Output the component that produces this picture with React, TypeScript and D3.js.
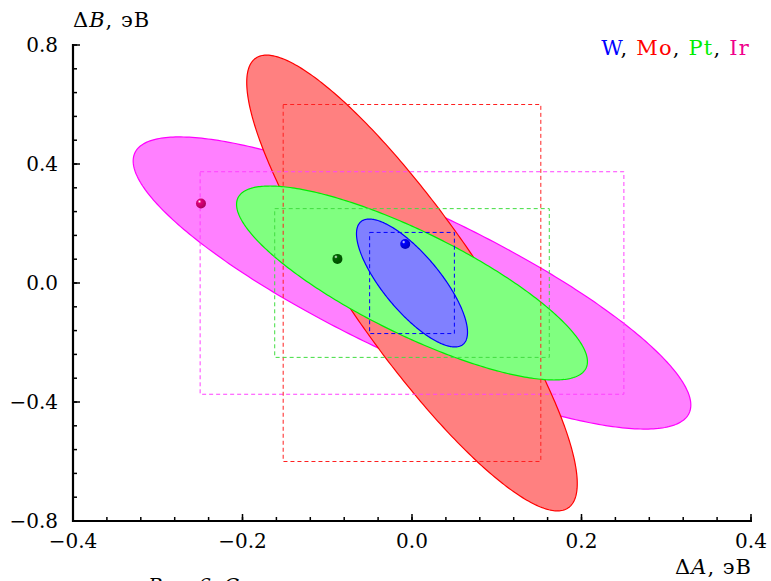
import { useRef, useEffect } from "react";
import * as d3 from "d3";

// order of drawing: widest at the back
const metals = ["Ir", "Mo", "Pt", "W"];
const centerA = [0, 0, 0, 0];
const centerB = [0, 0, 0, 0];
const halfA = [0.329, 0.195, 0.207, 0.0655];
const halfB = [0.491, 0.766, 0.326, 0.215];
const rho = [-0.835, -0.88, -0.81, -0.77];
const boxA = [0.25, 0.152, 0.162, 0.05];
const boxB = [0.374, 0.6, 0.25, 0.17];
const pointA = [-0.249, null, -0.088, -0.008];
const pointB = [0.267, null, 0.081, 0.131];

const fills = ["#ff80ff", "#ff8080", "#80ff80", "#8080ff"];
const strokes = ["#ff00ff", "#ff0000", "#00ee00", "#0000ff"];
const dashes = ["#ff40ff", "#ff2020", "#40dd40", "#0000ff"];
const dots = ["#e0007a", null, "#006400", "#0000ff"];

const legendNames = ["W", "Mo", "Pt", "Ir"];
const legendColors = ["#0000ff", "#ff0000", "#00ee00", "#f0008c"];

const xTicks = [-0.4, -0.2, 0.0, 0.2, 0.4];
const yTicks = [-0.8, -0.4, 0.0, 0.4, 0.8];

const App = () => {
  const ref = useRef(null);

  useEffect(() => {
    const width = 771;
    const height = 581;
    const font = "'DejaVu Serif', 'Liberation Serif', serif";
    const fs = 20;

    const svg = d3
      .select(ref.current)
      .html("")
      .append("svg")
      .attr("width", width)
      .attr("height", height)
      .style("display", "block")
      .style("position", "absolute")
      .style("left", 0)
      .style("top", 0);

    const x = d3.scaleLinear().domain([-0.4, 0.4]).range([73, 751]);
    const y = d3.scaleLinear().domain([-0.8, 0.8]).range([521, 45]);

    const defs = svg.append("defs");
    dots.forEach((c, i) => {
      if (!c) return;
      const g = defs
        .append("radialGradient")
        .attr("id", "dot" + i)
        .attr("cx", "0.35")
        .attr("cy", "0.3")
        .attr("r", "0.7");
      g.append("stop").attr("offset", "0").attr("stop-color", "#ffffff");
      g.append("stop").attr("offset", "0.25").attr("stop-color", c);
      g.append("stop").attr("offset", "1").attr("stop-color", d3.color(c).darker(0.8).toString());
    });

    const ts = d3.range(0, 2 * Math.PI, Math.PI / 180);
    const line = d3
      .line()
      .x((d) => x(d[0]))
      .y((d) => y(d[1]))
      .curve(d3.curveLinearClosed);

    metals.forEach((m, i) => {
      const pts = ts.map((t) => [
        centerA[i] + halfA[i] * Math.cos(t),
        centerB[i] + halfB[i] * (rho[i] * Math.cos(t) + Math.sqrt(1 - rho[i] * rho[i]) * Math.sin(t)),
      ]);
      svg
        .append("path")
        .attr("d", line(pts))
        .attr("fill", fills[i])
        .attr("stroke", strokes[i])
        .attr("stroke-width", 1.2);
    });

    metals.forEach((m, i) => {
      svg
        .append("rect")
        .attr("x", x(centerA[i] - boxA[i]))
        .attr("y", y(centerB[i] + boxB[i]))
        .attr("width", x(centerA[i] + boxA[i]) - x(centerA[i] - boxA[i]))
        .attr("height", y(centerB[i] - boxB[i]) - y(centerB[i] + boxB[i]))
        .attr("fill", "none")
        .attr("stroke", dashes[i])
        .attr("stroke-width", 1)
        .attr("stroke-dasharray", "4,3");
    });

    metals.forEach((m, i) => {
      if (pointA[i] == null) return;
      svg
        .append("circle")
        .attr("cx", x(pointA[i]))
        .attr("cy", y(pointB[i]))
        .attr("r", 5)
        .attr("fill", `url(#dot${i})`);
    });

    // axes
    const ax = svg.append("g").attr("stroke", "#000");
    ax.append("line").attr("x1", 73).attr("x2", 73).attr("y1", 44).attr("y2", 522).attr("stroke-width", 2.2);
    ax.append("line").attr("x1", 72).attr("x2", 752).attr("y1", 521).attr("y2", 521).attr("stroke-width", 2.2);

    const xMinor = d3.range(-0.4, 0.4001, 0.04);
    ax.selectAll(".xm")
      .data(xMinor)
      .enter()
      .append("line")
      .attr("x1", (d) => x(d))
      .attr("x2", (d) => x(d))
      .attr("y1", 521)
      .attr("y2", 517)
      .attr("stroke-width", 1.5);
    ax.selectAll(".xM")
      .data(xTicks)
      .enter()
      .append("line")
      .attr("x1", (d) => x(d))
      .attr("x2", (d) => x(d))
      .attr("y1", 521)
      .attr("y2", 514)
      .attr("stroke-width", 1.5);

    const yMinor = d3.range(-0.8, 0.8001, 0.08);
    ax.selectAll(".ym")
      .data(yMinor)
      .enter()
      .append("line")
      .attr("x1", 73)
      .attr("x2", 77)
      .attr("y1", (d) => y(d))
      .attr("y2", (d) => y(d))
      .attr("stroke-width", 1.5);
    ax.selectAll(".yM")
      .data(yTicks)
      .enter()
      .append("line")
      .attr("x1", 73)
      .attr("x2", 80)
      .attr("y1", (d) => y(d))
      .attr("y2", (d) => y(d))
      .attr("stroke-width", 1.5);

    const fmt = (d) => (d < 0 ? "\u2212" : "") + Math.abs(d).toFixed(1);

    svg
      .selectAll(".xl")
      .data(xTicks)
      .enter()
      .append("text")
      .attr("x", (d) => x(d))
      .attr("y", 548)
      .attr("text-anchor", "middle")
      .attr("font-family", font)
      .attr("font-size", fs)
      .text(fmt);

    svg
      .selectAll(".yl")
      .data(yTicks)
      .enter()
      .append("text")
      .attr("x", 58)
      .attr("y", (d) => y(d) + 7)
      .attr("text-anchor", "end")
      .attr("font-family", font)
      .attr("font-size", fs)
      .text(fmt);

    const yl = svg
      .append("text")
      .attr("x", 73)
      .attr("y", 27)
      .attr("font-family", font)
      .attr("font-size", 21)
      .attr("letter-spacing", 1);
    yl.append("tspan").text("\u0394");
    yl.append("tspan").attr("font-style", "italic").text("B");
    yl.append("tspan").text(", эВ");

    const xl = svg
      .append("text")
      .attr("x", 752)
      .attr("y", 574)
      .attr("text-anchor", "end")
      .attr("font-family", font)
      .attr("font-size", 21)
      .attr("letter-spacing", 1);
    xl.append("tspan").text("\u0394");
    xl.append("tspan").attr("font-style", "italic").text("A");
    xl.append("tspan").text(", эВ");

    const lg = svg
      .append("text")
      .attr("x", 750)
      .attr("y", 55)
      .attr("text-anchor", "end")
      .attr("font-family", font)
      .attr("font-size", 21)
      .attr("letter-spacing", 1.2);
    legendNames.forEach((n, i) => {
      lg.append("tspan").attr("fill", legendColors[i]).text(n);
      if (i < legendNames.length - 1) lg.append("tspan").attr("fill", "#000").text(", ");
    });

    // caption, cut by the lower edge as in the source
    svg
      .append("text")
      .attr("x", 148)
      .attr("y", 593)
      .attr("font-family", font)
      .attr("font-size", fs)
      .attr("font-style", "italic")
      .text("Рис. 6. Сравнение");
  }, []);

  return <div ref={ref} />;
};

export default App;
